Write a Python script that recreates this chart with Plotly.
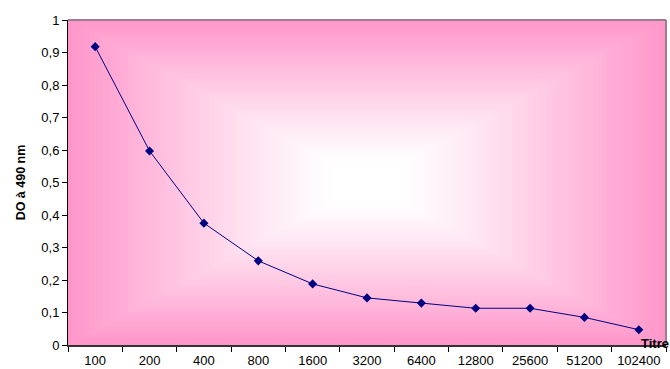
import plotly.graph_objects as go

# Titre de dilution et densité optique mesurée
titres = ["100", "200", "400", "800", "1600", "3200", "6400", "12800", "25600", "51200", "102400"]
do_490 = [0.918, 0.597, 0.375, 0.259, 0.188, 0.145, 0.129, 0.113, 0.113, 0.085, 0.047]
y_ticks = [0, 0.1, 0.2, 0.3, 0.4, 0.5, 0.6, 0.7, 0.8, 0.9, 1]

fig = go.Figure()

fig.add_trace(go.Scatter(
    x=titres, y=do_490, mode="lines+markers",
    line=dict(color="#000080", width=1),
    marker=dict(symbol="diamond", size=7, color="#000080"),
    showlegend=False,
))

# Rectangular "from center" gradient: pink edges fading to white in the middle
shapes = []
edge = (255, 150, 202)
steps = 70
for i in range(steps):
    t = 1 - i / steps  # relative half-size of the rectangle
    f = max(0.0, (t - 0.12) / 0.88)  # 0 at center, 1 at edge
    f = f ** 1.15
    r = round(255 + (edge[0] - 255) * f)
    g = round(255 + (edge[1] - 255) * f)
    b = round(255 + (edge[2] - 255) * f)
    shapes.append(dict(
        type="rect", xref="paper", yref="paper", layer="below",
        x0=0.5 - t / 2, x1=0.5 + t / 2, y0=0.5 - t / 2, y1=0.5 + t / 2,
        fillcolor=f"rgb({r},{g},{b})", line=dict(width=0),
    ))

# Top and right border of the plot area
shapes.append(dict(type="line", xref="paper", yref="paper", x0=0, x1=1, y0=1, y1=1,
                   line=dict(color="#9C7E92", width=2)))
shapes.append(dict(type="line", xref="paper", yref="paper", x0=1, x1=1, y0=0, y1=1,
                   line=dict(color="#9C7E92", width=2)))

fig.update_layout(
    width=670, height=369,
    margin=dict(l=68, r=4, t=20, b=24, autoexpand=False),
    paper_bgcolor="white",
    plot_bgcolor="white",
    separators=", ",
    font=dict(family="Liberation Sans, Arial, sans-serif", size=13, color="black"),
    shapes=shapes,
    xaxis=dict(
        type="category", range=[-0.5, len(titres) - 0.5],
        automargin=False,
        showgrid=False, zeroline=False,
        showline=True, linecolor="#333333", linewidth=2,
        ticks="outside", tickson="boundaries", ticklen=5, tickcolor="black",
        tickfont=dict(size=13), ticklabelstandoff=2,
    ),
    yaxis=dict(
        range=[0, 1], tickvals=y_ticks,
        automargin=False,
        showgrid=False, zeroline=False,
        showline=True, linecolor="black", linewidth=1,
        ticks="outside", ticklen=5, tickcolor="black",
        tickfont=dict(size=13),
        title=dict(text="<b>DO à 490 nm</b>", font=dict(size=12.5), standoff=12),
    ),
    annotations=[dict(
        text="<b>Titre</b>", xref="paper", yref="paper",
        x=(639 - 68) / 598, y=(345 - 353) / 325, xanchor="left", yanchor="bottom",
        showarrow=False, font=dict(size=13),
    )],
)

fig.write_html("out.html")
